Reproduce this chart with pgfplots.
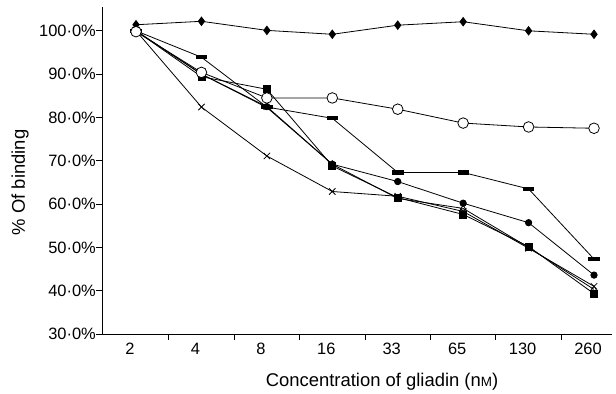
\documentclass[border=0pt]{standalone}
\usepackage{fontspec}
\setmainfont{Liberation Sans}
\usepackage{pgfplots}
\pgfplotsset{compat=1.18}
\newcommand{\fs}{\fontsize{16.5}{19}\selectfont}
\newcommand{\fl}{\fontsize{18.5}{21}\selectfont}
\begin{document}
\begin{tikzpicture}
\begin{axis}[
  scale only axis,
  width=510bp, height=327bp,
  xmin=-0.52, xmax=7.275,
  ymin=30, ymax=105.5,
  axis x line=bottom, axis y line=left,
  axis line style={-, line width=0.8bp},
  xtick={0,...,7},
  xticklabels={2,4,8,16,33,65,130,260},
  minor xtick={0.5,1.5,2.5,3.5,4.5,5.5,6.5},
  major x tick style={draw=none},
  minor tick length=6bp,
  major tick length=6bp,
  tick align=outside,
  tick style={black, line width=0.8bp},
  ytick={30,40,50,60,70,80,90,100},
  yticklabels={30·0\%,40·0\%,50·0\%,60·0\%,70·0\%,80·0\%,90·0\%,100·0\%},
  tick label style={font=\fs},
  xticklabel style={xshift=-6bp},
  yticklabel style={inner sep=0pt},
  label style={font=\fl},
  xlabel={Concentration of gliadin (n{\fontsize{13.5}{14}\selectfont M})},
  xlabel style={at={(axis cs:3.76,30)}, anchor=base, yshift=-52bp},
  ylabel={\% Of binding},
  ylabel style={at={(axis cs:-0.52,65)}, anchor=center, yshift=82bp},
  every axis plot/.append style={black, line width=0.8bp},
  clip=false,
]
% filled square
\addplot[mark=square*, mark size=3.5bp] coordinates {(0,100)(1,89.4)(2,86.5)(3,68.8)(4,61.5)(5,57.6)(6,50.2)(7,39.3)};
% open triangle
\addplot[mark=triangle, mark size=3.5bp, mark options={fill=white}] coordinates {(0,100)(1,90)(2,82.3)(3,69.2)(4,61.3)(5,59.0)(6,50.0)(7,40.3)};
% cross
\addplot[mark=x, mark size=4.5bp] coordinates {(0,100)(1,82.4)(2,71.1)(3,62.9)(4,61.8)(5,58.3)(6,49.8)(7,41.0)};
% filled circle
\addplot[mark=*, mark size=3.2bp] coordinates {(0,100)(1,90)(2,82.5)(3,69.2)(4,65.2)(5,60.2)(6,55.7)(7,43.6)};
% dash
\addplot[mark=square*, mark size=3.5bp, mark options={xscale=1.5, yscale=0.45}] coordinates {(0,100)(1,93.9)(2,82.4)(3,79.8)(4,67.3)(5,67.3)(6,63.5)(7,47.3)};
% diamond
\addplot[mark=diamond*, mark size=4.2bp] coordinates {(0,101.4)(1,102.2)(2,100.1)(3,99.2)(4,101.3)(5,102.1)(6,100.0)(7,99.2)};
% open circle
\addplot[mark=*, mark size=5.3bp, mark options={fill=white}] coordinates {(0,99.8)(1,90.4)(2,84.5)(3,84.5)(4,81.9)(5,78.7)(6,77.8)(7,77.5)};
\end{axis}
\pgfresetboundingbox
\path[use as bounding box] (-102bp,-60bp) rectangle (514bp,334bp);
\end{tikzpicture}
\end{document}
